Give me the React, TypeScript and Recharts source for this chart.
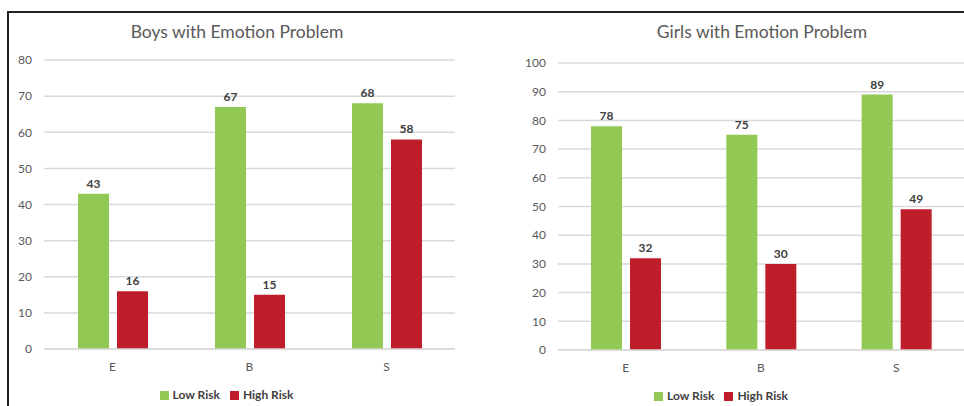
import React from 'react';
import { BarChart, Bar, XAxis, YAxis, CartesianGrid, Legend, LabelList } from 'recharts';

const categories = ['E', 'B', 'S'];
const boysLow = [43, 67, 68];
const boysHigh = [16, 15, 58];
const girlsLow = [78, 75, 89];
const girlsHigh = [32, 30, 49];
const boysTicks = [0, 10, 20, 30, 40, 50, 60, 70, 80];
const girlsTicks = [0, 10, 20, 30, 40, 50, 60, 70, 80, 90, 100];

const GREEN = '#92C954';
const RED = '#BE1E2A';
const FONT = 'Lato, "Open Sans", sans-serif';

const boysData = categories.map((c, i) => ({ name: c, low: boysLow[i], high: boysHigh[i] }));
const girlsData = categories.map((c, i) => ({ name: c, low: girlsLow[i], high: girlsHigh[i] }));

// keep legend in series order (Low Risk first)
const legendOrder = (item: any) => (item.value === 'Low Risk' ? 0 : 1);

function Panel({ data, ticks, max, margin, yWidth }: { data: any[]; ticks: number[]; max: number; margin: any; yWidth: number }) {
  return (
    <BarChart width={480} height={406} data={data} margin={margin} barSize={31} barGap={8}>
      <CartesianGrid vertical={false} stroke="#d9d9d9" strokeWidth={1.5} />
      <XAxis
        dataKey="name"
        axisLine={{ stroke: '#d9d9d9', strokeWidth: 1.5 }}
        tickLine={false}
        height={36}
        tickMargin={7}
        tick={{ fill: '#595959', fontSize: 12, fontFamily: FONT }}
      />
      <YAxis
        domain={[0, max]}
        ticks={ticks}
        width={yWidth}
        axisLine={false}
        tickLine={false}
        tickMargin={6}
        tick={{ fill: '#595959', fontSize: 12, fontFamily: FONT }}
      />
      <Legend
        verticalAlign="bottom"
        iconType="square"
        iconSize={9}
        itemSorter={legendOrder}
        formatter={(v: string) => <span style={{ color: '#404040', fontWeight: 700, fontSize: 12, fontFamily: FONT }}>{v}</span>}
      />
      <Bar dataKey="low" name="Low Risk" fill={GREEN} isAnimationActive={false}>
        <LabelList dataKey="low" position="top" offset={6} style={{ fill: '#404040', fontWeight: 700, fontSize: 12, fontFamily: FONT }} />
      </Bar>
      <Bar dataKey="high" name="High Risk" fill={RED} isAnimationActive={false}>
        <LabelList dataKey="high" position="top" offset={6} style={{ fill: '#404040', fontWeight: 700, fontSize: 12, fontFamily: FONT }} />
      </Bar>
    </BarChart>
  );
}

const titleStyle: React.CSSProperties = {
  position: 'absolute',
  top: 21,
  fontFamily: FONT,
  fontSize: 17.5,
  color: '#595959',
  textAlign: 'center',
  width: 300,
};

export default function App() {
  return (
    <div style={{ position: 'absolute', left: 0, top: 0, width: 964, height: 406, overflow: 'hidden', background: '#fff' }}>
      <div style={{ position: 'absolute', left: 7, top: 11, width: 980, height: 420, borderTop: '2px solid #222', borderLeft: '2px solid #222' }} />
      <div style={{ position: 'absolute', left: 0, top: 0 }}>
        <Panel data={boysData} ticks={boysTicks} max={80} margin={{ top: 60, right: 25, left: 8, bottom: 3 }} yWidth={36} />
      </div>
      <div style={{ position: 'absolute', left: 484, top: 0 }}>
        <Panel data={girlsData} ticks={girlsTicks} max={100} margin={{ top: 63, right: 0, left: 4, bottom: 2 }} yWidth={70} />
      </div>
      <div style={{ ...titleStyle, left: 87 }}>Boys with Emotion Problem</div>
      <div style={{ ...titleStyle, left: 612 }}>Girls with Emotion Problem</div>
    </div>
  );
}
